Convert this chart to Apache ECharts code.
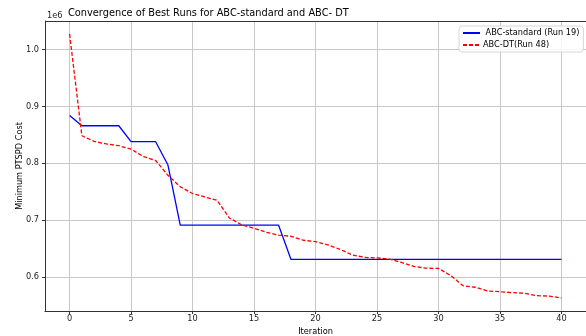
<!DOCTYPE html>
<html>
<head>
<meta charset="utf-8">
<script src="https://cdn.jsdelivr.net/npm/echarts@6/dist/echarts.min.js"></script>
<style>
	html, body { margin: 0; padding: 0; background: #fff; }
	#chart { width: 586px; height: 336px; }
</style>
</head>
<body>
<div id="chart"></div>
<script>
// iterations 0..40
var iterations = [];
for (var i = 0; i <= 40; i++) { iterations.push(i); }

var abcStandard = [
	884000, 866000, 866000, 866000, 866000, 838000, 838000, 838000, 797000, 691500,
	691500, 691500, 691500, 691500, 691500, 691500, 691500, 691500, 631600, 631600,
	631600, 631600, 631600, 631600, 631600, 631600, 631600, 631600, 631600, 631600,
	631600, 631600, 631600, 631600, 631600, 631600, 631600, 631600, 631600, 631600,
	631600
];

var abcDT = [
	1027000, 848500, 838500, 834000, 831000, 825000, 812000, 805000, 779000, 759000,
	747000, 741000, 735000, 704000, 692000, 686000, 679000, 674000, 672000, 665000,
	662500, 657000, 649000, 639000, 635000, 634000, 632000, 626000, 619000, 616000,
	615500, 603000, 585200, 582500, 576000, 574700, 573000, 572000, 567700, 567000,
	563600
];

var xTicks = [0, 5, 10, 15, 20, 25, 30, 35, 40];
var yTicks = [600000, 700000, 800000, 900000, 1000000];

var font = 'DejaVu Sans';

var chart = echarts.init(document.getElementById('chart'), null, { renderer: 'canvas' });

var option = {
	animation: false,
	backgroundColor: '#ffffff',
	textStyle: { fontFamily: font },
	title: {
		text: 'Convergence of Best Runs for ABC-standard and ABC- DT',
		left: 68,
		top: 7,
		padding: 0,
		textStyle: { fontFamily: font, fontSize: 9.8, fontWeight: 'normal', color: '#000', lineHeight: 12 }
	},
	legend: {
		orient: 'vertical',
		left: 459,
		top: 26,
		itemWidth: 17,
		itemHeight: 8,
		itemGap: 4,
		padding: [3, 4, 3, 3],
		backgroundColor: 'rgba(255,255,255,0.85)',
		borderColor: '#d6d6d6',
		borderWidth: 1,
		borderRadius: 3,
		itemStyle: { opacity: 0 },
		textStyle: { fontFamily: font, fontSize: 8.2, color: '#000', padding: [0, 0, 0, -2] },
		data: [' ABC-standard (Run 19)', 'ABC-DT(Run 48)']
	},
	grid: { left: 45, top: 21, right: 0, bottom: 25, containLabel: false, outerBoundsMode: 'none' },
	xAxis: {
		type: 'value',
		min: -2,
		max: 42,
		name: 'Iteration',
		nameLocation: 'middle',
		nameGap: 17,
		nameTextStyle: { fontFamily: font, fontSize: 8.2, color: '#000' },
		axisLine: { onZero: false, lineStyle: { color: '#333', width: 1 } },
		axisTick: { show: true, length: 3, customValues: xTicks, lineStyle: { color: '#333' } },
		axisLabel: { customValues: xTicks, margin: 4, fontFamily: font, fontSize: 8.2, color: '#222' },
		splitLine: { show: true, lineStyle: { color: '#c8c8c8', width: 1 } }
	},
	yAxis: {
		type: 'value',
		min: 540800,
		max: 1049900,
		name: 'Minimum PTSPD Cost',
		nameLocation: 'middle',
		nameRotate: 90,
		nameGap: 21,
		nameMoveOverlap: false,
		nameTextStyle: { fontFamily: font, fontSize: 8.2, color: '#000' },
		axisLine: { show: true, onZero: false, lineStyle: { color: '#333', width: 1 } },
		axisTick: { show: true, length: 3, customValues: yTicks, lineStyle: { color: '#333' } },
		axisLabel: {
			customValues: yTicks,
			margin: 6,
			fontFamily: font,
			fontSize: 8.2,
			color: '#222',
			formatter: function (v) { return (v / 1e6).toFixed(1); }
		},
		splitLine: { show: true, lineStyle: { color: '#c8c8c8', width: 1 } }
	},
	graphic: [
		{ type: 'text', left: 47, top: 12, style: { text: '1e6', font: '8.2px "DejaVu Sans"', fill: '#222' } },
		// top spine
		{ type: 'line', shape: { x1: 45, y1: 21.5, x2: 586, y2: 21.5 }, style: { stroke: '#333', lineWidth: 1 }, z: 10 }
	],
	series: [
		{
			name: ' ABC-standard (Run 19)',
			type: 'line',
			data: iterations.map(function (x, k) { return [x, abcStandard[k]]; }),
			symbol: 'none',
			lineStyle: { color: '#0000ff', width: 1.3 },
			itemStyle: { color: '#0000ff' }
		},
		{
			name: 'ABC-DT(Run 48)',
			type: 'line',
			data: iterations.map(function (x, k) { return [x, abcDT[k]]; }),
			symbol: 'none',
			lineStyle: { color: '#ff0000', width: 1.3, type: [4, 2] },
			itemStyle: { color: '#ff0000' }
		}
	]
};

chart.setOption(option);
</script>
</body>
</html>
